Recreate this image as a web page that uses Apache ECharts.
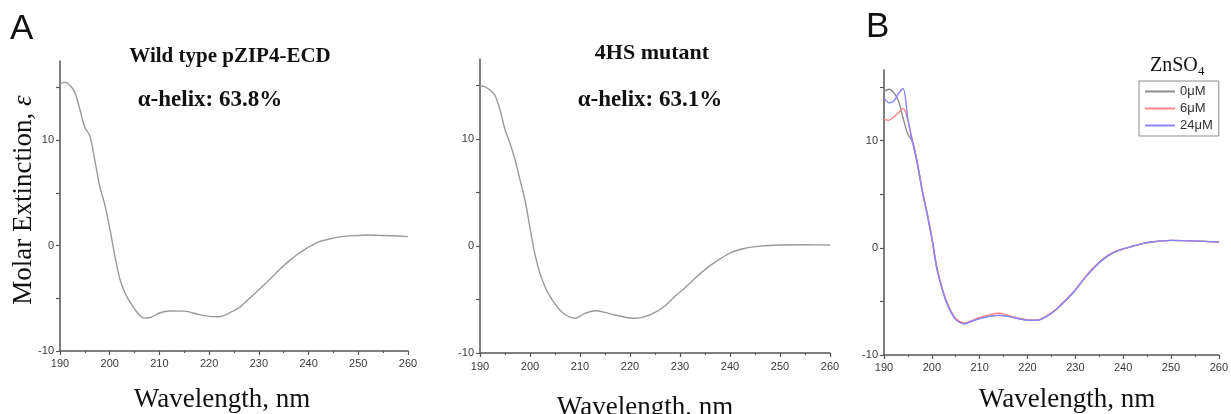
<!DOCTYPE html>
<html>
<head>
<meta charset="utf-8">
<script src="https://cdn.jsdelivr.net/npm/echarts@6/dist/echarts.min.js"></script>
<style>
  html, body { margin: 0; padding: 0; background: #fff; }
  #main { width: 1231px; height: 414px; }
</style>
</head>
<body>
<div id="main"></div>
<script>
// ---- data ----
// panel A left: wild type pZIP4-ECD
var wtWave = [190,191,192,193,194,195,196,197,198,199,200,201,202,203,204,205,206,207,208,210,212,215,218,220,222,224,226,228,230,232,234,236,238,240,242,244,246,248,250,252,255,258,260];
var wtVal  = [15.3,15.5,15.2,14.5,12.9,11.2,10.4,8.1,5.6,3.9,1.65,-0.9,-3.1,-4.4,-5.3,-6.0,-6.6,-6.88,-6.85,-6.4,-6.2,-6.22,-6.55,-6.72,-6.75,-6.4,-5.9,-5.05,-4.2,-3.3,-2.35,-1.5,-0.75,-0.15,0.35,0.6,0.8,0.92,0.95,1.0,0.95,0.9,0.85];

// panel A right: 4HS mutant
var hsWave = [190,191,192,193,194,195,196,197,198,199,200,201,202,203,204,205,206,207,208,209,210,211,213,215,217,219,221,223,225,227,229,231,233,235,237,240,243,246,250,255,260];
var hsVal  = [15.0,14.9,14.6,14.1,12.75,10.9,9.6,8.1,6.2,4.3,1.7,-0.8,-2.55,-3.8,-4.7,-5.4,-6.0,-6.4,-6.65,-6.75,-6.55,-6.3,-6.05,-6.2,-6.45,-6.65,-6.75,-6.6,-6.2,-5.6,-4.7,-3.9,-3.0,-2.2,-1.5,-0.65,-0.2,0.0,0.1,0.12,0.1];

// panel B: ZnSO4 titration
var znWave = [190,191,192,193,194,195,196,197,198,199,200,201,202,203,204,205,206,207,208,210,212,214,216,218,220,222,224,226,228,230,232,234,236,238,240,242,244,246,248,250,255,260];
var zn0  = [14.6,14.8,14.5,13.75,12.1,10.6,9.9,7.8,5.3,3.2,0.9,-1.8,-3.6,-5.0,-5.95,-6.65,-6.95,-7.05,-6.9,-6.6,-6.4,-6.3,-6.4,-6.6,-6.75,-6.75,-6.4,-5.75,-4.9,-3.95,-2.8,-1.8,-1.0,-0.45,-0.1,0.15,0.4,0.55,0.65,0.7,0.65,0.55];
var zn6  = [12.0,11.9,12.2,12.6,13.0,11.9,9.9,7.9,5.4,3.3,1.0,-1.7,-3.5,-4.9,-5.9,-6.6,-6.9,-7.0,-6.85,-6.5,-6.25,-6.1,-6.3,-6.55,-6.7,-6.75,-6.35,-5.7,-4.85,-3.9,-2.75,-1.75,-0.95,-0.4,-0.1,0.15,0.4,0.55,0.65,0.7,0.65,0.5];
var zn24 = [14.0,13.55,13.65,14.4,14.85,12.0,9.8,7.8,5.3,3.2,0.9,-1.8,-3.6,-5.0,-6.0,-6.7,-7.0,-7.1,-6.9,-6.6,-6.4,-6.3,-6.4,-6.6,-6.75,-6.75,-6.4,-5.75,-4.9,-3.95,-2.8,-1.8,-1.0,-0.45,-0.1,0.15,0.4,0.55,0.65,0.7,0.65,0.55];
var znNames = ['0μM', '6μM', '24μM'];

var xTicks = [190, 260, 10];          // min, max, interval
var yLabels = [-10, 0, 10];
var yTicks = [-10, -5, 0, 5, 10, 15];

function pairs(xs, ys) {
  return xs.map(function (x, i) { return [x, ys[i]]; });
}

var chart = echarts.init(document.getElementById('main'));

var axisColor = '#555';
var serif = '"Liberation Serif", "Times New Roman", serif';
var sans = '"Liberation Sans", Arial, sans-serif';

function makeX(idx, margin) {
  return {
    type: 'value', gridIndex: idx,
    min: xTicks[0], max: xTicks[1], interval: xTicks[2],
    axisLine: { onZero: false, lineStyle: { color: axisColor, width: 1.5 } },
    axisTick: { length: 4, lineStyle: { color: axisColor, width: 1.2 } },
    minorTick: { show: true, splitNumber: 2, length: 2, lineStyle: { color: axisColor, width: 1.2 } },
    axisLabel: { color: '#3a3a3a', fontSize: 11, fontFamily: sans, margin: margin },
    splitLine: { show: false }
  };
}
function makeY(idx, max) {
  return {
    type: 'value', gridIndex: idx,
    min: -10, max: max, interval: 5,
    axisLine: { show: true, onZero: false, lineStyle: { color: axisColor, width: 1.5 } },
    axisTick: { show: true, length: 4, customValues: yTicks, lineStyle: { color: axisColor, width: 1.2 } },
    axisLabel: { color: '#3a3a3a', fontSize: 11, fontFamily: sans, margin: 6, customValues: yLabels },
    splitLine: { show: false }
  };
}

function txt(x, y, text, font, align) {
  return {
    type: 'text', x: x, y: y, silent: true,
    style: {
      text: text, font: font, fill: '#111',
      align: align || 'center', verticalAlign: 'middle',
      textAlign: align || 'center', textVerticalAlign: 'middle'
    }
  };
}

var option = {
  animation: false,
  backgroundColor: '#fff',
  grid: [
    { left: 60, top: 61, width: 348, height: 290 },
    { left: 480, top: 59, width: 350, height: 294 },
    { left: 884, top: 70, width: 338, height: 285 }
  ],
  xAxis: [makeX(0, 7), makeX(1, 8), makeX(2, 7)],
  yAxis: [makeY(0, 17.5), makeY(1, 17.5), makeY(2, 16.6)],
  legend: {
    data: znNames,
    orient: 'vertical',
    left: 1139, top: 81,
    padding: [3, 6, 3, 6],
    itemGap: 2,
    itemWidth: 30, itemHeight: 2,
    icon: 'rect',
    borderColor: '#8a8a8a', borderWidth: 1,
    textStyle: { fontSize: 13, color: '#333', fontFamily: sans, lineHeight: 15 }
  },
  graphic: [
    txt(10, 29, 'A', '35px ' + sans, 'left'),
    txt(866, 27, 'B', '35px ' + sans, 'left'),
    txt(230, 57, 'Wild type pZIP4-ECD', 'bold 21px ' + serif),
    txt(210, 100, 'α-helix: 63.8%', 'bold 23px ' + serif),
    txt(652, 53, '4HS mutant', 'bold 22px ' + serif),
    txt(650, 100, 'α-helix: 63.1%', 'bold 23px ' + serif),
    txt(222, 400, 'Wavelength, nm', '27px ' + serif),
    txt(645, 408, 'Wavelength, nm', '27px ' + serif),
    txt(1067, 400, 'Wavelength, nm', '27px ' + serif),
    {
      type: 'text', x: 24, y: 200, rotation: Math.PI / 2, silent: true,
      style: {
        text: 'Molar Extinction, {i|ε}',
        font: '27px ' + serif, fill: '#111',
        align: 'center', verticalAlign: 'middle',
        textAlign: 'center', textVerticalAlign: 'middle',
        rich: { i: { font: 'italic 27px ' + serif, fill: '#111' } }
      }
    },
    txt(1150, 66, 'ZnSO', '20px ' + serif, 'left'),
    txt(1198, 72, '4', '13px ' + serif, 'left')
  ],
  series: [
    {
      type: 'line', xAxisIndex: 0, yAxisIndex: 0, name: 'wt',
      data: pairs(wtWave, wtVal), showSymbol: false, smooth: 0.3,
      lineStyle: { color: '#9a9a9a', width: 1.4 }, color: '#9a9a9a'
    },
    {
      type: 'line', xAxisIndex: 1, yAxisIndex: 1, name: '4HS',
      data: pairs(hsWave, hsVal), showSymbol: false, smooth: 0.3,
      lineStyle: { color: '#9a9a9a', width: 1.4 }, color: '#9a9a9a'
    },
    {
      type: 'line', xAxisIndex: 2, yAxisIndex: 2, name: znNames[0],
      data: pairs(znWave, zn0), showSymbol: false, smooth: 0.3,
      lineStyle: { color: '#8c8c8c', width: 1.4 }, color: '#8c8c8c'
    },
    {
      type: 'line', xAxisIndex: 2, yAxisIndex: 2, name: znNames[1],
      data: pairs(znWave, zn6), showSymbol: false, smooth: 0.3,
      lineStyle: { color: '#ff8585', width: 1.4 }, color: '#ff8585'
    },
    {
      type: 'line', xAxisIndex: 2, yAxisIndex: 2, name: znNames[2],
      data: pairs(znWave, zn24), showSymbol: false, smooth: 0.3,
      lineStyle: { color: '#8585ff', width: 1.4 }, color: '#8585ff'
    }
  ]
};

chart.setOption(option);
</script>
</body>
</html>
